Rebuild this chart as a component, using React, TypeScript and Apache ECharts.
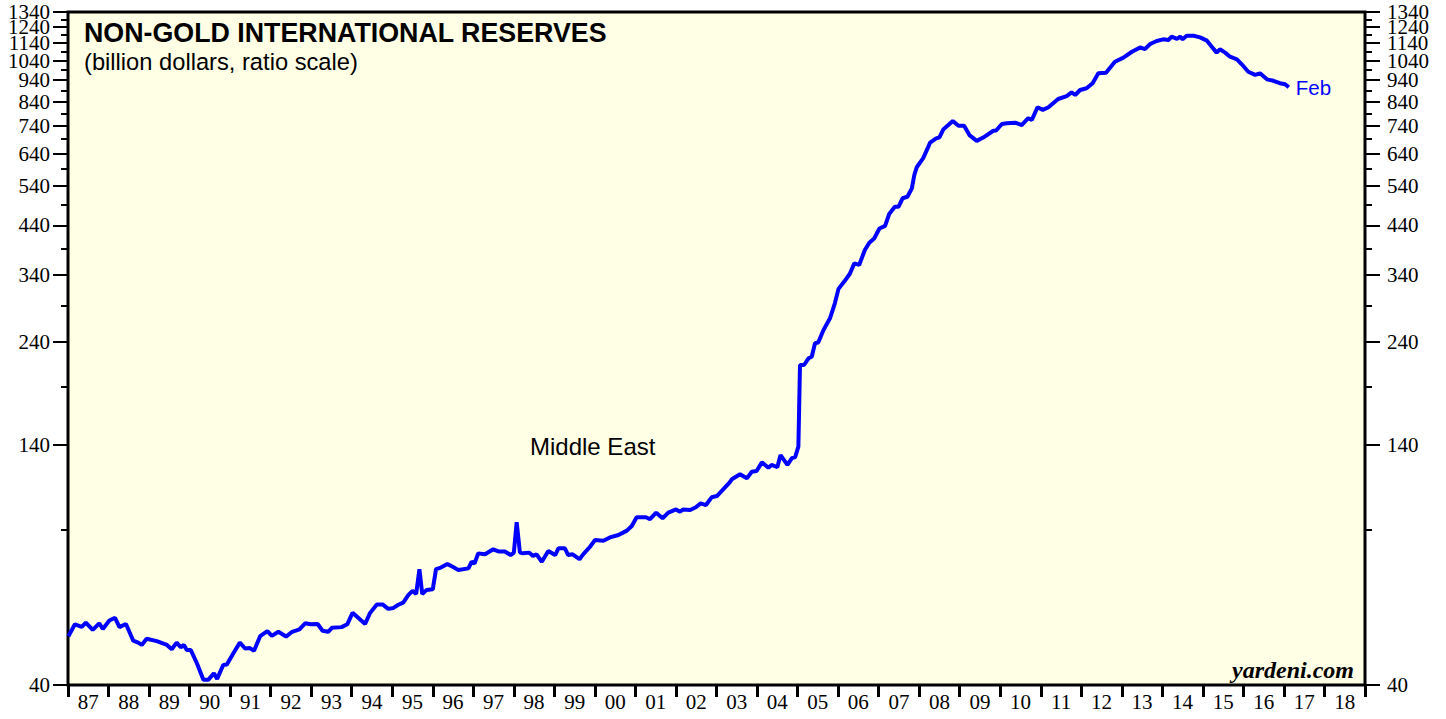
import React, { useEffect, useRef } from "react";
import * as echarts from "echarts";

const years: number[] = [
  1987.01, 1987.17, 1987.34, 1987.44, 1987.61, 1987.77, 1987.86, 1988.02, 1988.16, 1988.27,
  1988.43, 1988.61, 1988.73, 1988.82, 1988.94, 1989.19, 1989.44, 1989.56, 1989.68, 1989.78,
  1989.86, 1989.93, 1990.03, 1990.18, 1990.34, 1990.46, 1990.6, 1990.68, 1990.83, 1990.92,
  1991.08, 1991.24, 1991.37, 1991.49, 1991.59, 1991.74, 1991.92, 1992.03, 1992.19, 1992.38,
  1992.53, 1992.71, 1992.85, 1992.99, 1993.16, 1993.28, 1993.42, 1993.51, 1993.75, 1993.89,
  1994.02, 1994.16, 1994.33, 1994.45, 1994.62, 1994.76, 1994.9, 1995.03, 1995.15, 1995.27,
  1995.4, 1995.5, 1995.59, 1995.67, 1995.74, 1995.85, 1996.0, 1996.08, 1996.2, 1996.36,
  1996.49, 1996.63, 1996.88, 1996.96, 1997.03, 1997.12, 1997.29, 1997.49, 1997.62, 1997.78,
  1997.92, 1998.0, 1998.07, 1998.15, 1998.23, 1998.38, 1998.47, 1998.56, 1998.69, 1998.85,
  1999.02, 1999.1, 1999.26, 1999.34, 1999.45, 1999.62, 1999.71, 1999.88, 2000.0, 2000.21,
  2000.37, 2000.58, 2000.79, 2000.91, 2001.03, 2001.26, 2001.36, 2001.51, 2001.67, 2001.81,
  2002.0, 2002.1, 2002.18, 2002.35, 2002.49, 2002.61, 2002.74, 2002.88, 2003.01, 2003.13,
  2003.32, 2003.38, 2003.58, 2003.75, 2003.87, 2003.99, 2004.12, 2004.28, 2004.36, 2004.5,
  2004.58, 2004.75, 2004.86, 2004.94, 2005.02, 2005.06, 2005.16, 2005.27, 2005.35, 2005.43,
  2005.51, 2005.64, 2005.8, 2005.92, 2006.01, 2006.17, 2006.29, 2006.4, 2006.52, 2006.66,
  2006.77, 2006.89, 2007.02, 2007.16, 2007.26, 2007.4, 2007.49, 2007.59, 2007.71, 2007.82,
  2007.88, 2007.94, 2008.1, 2008.2, 2008.27, 2008.42, 2008.5, 2008.6, 2008.72, 2008.83,
  2008.97, 2009.11, 2009.24, 2009.42, 2009.58, 2009.83, 2009.9, 2010.04, 2010.16, 2010.37,
  2010.53, 2010.69, 2010.78, 2010.92, 2011.05, 2011.19, 2011.43, 2011.64, 2011.76, 2011.85,
  2011.97, 2012.13, 2012.28, 2012.42, 2012.61, 2012.83, 2013.04, 2013.25, 2013.45, 2013.57,
  2013.7, 2013.86, 2014.02, 2014.15, 2014.23, 2014.36, 2014.44, 2014.5, 2014.6, 2014.77,
  2014.93, 2015.1, 2015.22, 2015.34, 2015.42, 2015.55, 2015.67, 2015.84, 2015.96, 2016.12,
  2016.29, 2016.41, 2016.58, 2016.74, 2016.9, 2017.03, 2017.12,
];

const reserves: number[] = [
  51.6, 54.9, 54.2, 55.4, 53.3, 55.2, 53.6, 56.0, 56.8, 54.1,
  55.0, 50.4, 49.9, 49.3, 50.9, 50.3, 49.3, 48.2, 49.9, 48.7,
  49.3, 48.0, 48.0, 44.8, 41.1, 41.1, 42.5, 41.3, 44.4, 44.5,
  47.2, 49.9, 48.4, 48.5, 47.8, 51.6, 53.0, 51.7, 52.8, 51.5,
  52.8, 53.5, 55.2, 54.9, 55.0, 53.1, 52.8, 53.9, 54.1, 54.9,
  58.3, 56.8, 55.0, 58.2, 60.9, 60.9, 59.5, 59.8, 60.8, 61.5,
  64.0, 65.4, 64.3, 73.2, 64.3, 65.7, 65.9, 73.2, 73.8, 75.2,
  74.1, 72.9, 73.5, 76.1, 75.4, 79.5, 79.1, 81.2, 80.3, 80.3,
  78.8, 79.8, 93.5, 79.8, 79.5, 79.8, 78.4, 79.1, 76.1, 80.5,
  78.8, 81.6, 81.6, 78.8, 79.1, 77.1, 79.1, 82.3, 85.2, 84.9,
  86.4, 87.5, 89.5, 91.7, 96.0, 96.0, 95.0, 98.3, 95.5, 98.3,
  100.0, 98.8, 100.0, 99.7, 101.1, 103.2, 102.3, 106.5, 107.2, 110.1,
  115.0, 117.0, 120.1, 117.6, 121.7, 122.2, 127.8, 124.3, 126.1, 124.6,
  132.8, 126.1, 130.6, 131.4, 138.7, 212.4, 212.4, 220, 221.8, 237.9,
  238.8, 255, 271, 293, 316, 330, 342, 361, 358, 387,
  402, 411, 433, 439, 467, 485, 485, 507, 511, 534,
  572, 596, 625, 655, 678, 693, 697, 727, 743, 759,
  740, 740, 705, 684, 696, 721, 722, 747, 750, 752,
  743, 770, 763, 815, 804, 815, 851, 864, 881, 869,
  892, 900, 924, 973, 976, 1034, 1056, 1089, 1114, 1104,
  1134, 1152, 1162, 1158, 1178, 1165, 1178, 1162, 1184, 1184,
  1174, 1154, 1118, 1084, 1103, 1084, 1061, 1047, 1020, 981,
  965, 973, 943, 936, 924, 919, 905,
];

const yearLabels: string[] = [
  "87", "88", "89", "90", "91", "92", "93", "94", "95", "96", "97", "98", "99", "00", "01", "02",
  "03", "04", "05", "06", "07", "08", "09", "10", "11", "12", "13", "14", "15", "16", "17", "18",
];

const majorTicks: number[] = [40, 140, 240, 340, 440, 540, 640, 740, 840, 940, 1040, 1140, 1240, 1340];
const minorTicks: number[] = [90, 190, 290, 390, 490, 590, 690, 790, 890, 990, 1090, 1190, 1290];

const Y_MIN = 40;
const Y_MAX = 1340;
const X_MIN = 1987;
const X_MAX = 2019;

export default function App() {
  const ref = useRef<HTMLDivElement>(null);

  useEffect(() => {
    document.body.style.margin = "0";
    if (!ref.current) return;
    const chart = echarts.init(ref.current, undefined, { renderer: "svg" });

    const lnMin = Math.log(Y_MIN);
    const lnMax = Math.log(Y_MAX);
    const majorLn = majorTicks.map((v) => Math.log(v));
    const minorLn = minorTicks.map((v) => Math.log(v));
    // labels are split across two axes so that ECharts' min/max overlap
    // handling does not hide any of the densely packed top labels
    const labelsA = majorLn.filter((_, i) => i !== majorTicks.length - 2);
    const labelsB = [majorLn[majorTicks.length - 2]];
    const serif = "'Liberation Serif', 'Times New Roman', serif";
    const sans = "'Liberation Sans', Arial, Helvetica, sans-serif";

    const lnAxis = (
      pos: "left" | "right",
      ticks: number[] | null,
      tickLen: number,
      labels: number[] | null,
      margin: number
    ) => ({
      type: "value",
      position: pos,
      min: lnMin,
      max: lnMax,
      axisLine: { show: false },
      splitLine: { show: false },
      axisTick: ticks
        ? {
            show: true,
            customValues: ticks,
            length: tickLen,
            lineStyle: { color: "#000", width: 2 },
          }
        : { show: false },
      axisLabel: labels
        ? {
            show: true,
            customValues: labels,
            showMinLabel: true,
            showMaxLabel: true,
            hideOverlap: false,
            formatter: (v: number) => String(Math.round(Math.exp(v))),
            fontFamily: serif,
            fontSize: 21,
            color: "#000",
            margin,
          }
        : { show: false },
    });

    const option: any = {
      animation: false,
      backgroundColor: "#ffffff",
      grid: {
        left: 68,
        right: 81,
        top: 12,
        bottom: 34,
        show: true,
        backgroundColor: "#FFFFE6",
        borderColor: "#000",
        borderWidth: 3,
        containLabel: false,
        outerBoundsMode: "none",
      },
      xAxis: [
        { type: "value", min: X_MIN, max: X_MAX, show: false },
        {
          type: "category",
          data: yearLabels,
          position: "bottom",
          boundaryGap: true,
          axisLine: { show: false },
          splitLine: { show: false },
          axisTick: {
            show: true,
            alignWithLabel: false,
            interval: 0,
            length: 12,
            lineStyle: { color: "#000", width: 3 },
          },
          axisLabel: {
            interval: 0,
            fontFamily: serif,
            fontSize: 21,
            color: "#000",
            margin: 6,
          },
        },
      ],
      yAxis: [
        { type: "log", logBase: 10, min: Y_MIN, max: Y_MAX, show: false },
        lnAxis("left", majorLn, 15, labelsA, 18),
        lnAxis("left", minorLn, 7, null, 18),
        lnAxis("left", null, 0, labelsB, 18),
        lnAxis("right", majorLn, 15, labelsA, 22),
        lnAxis("right", minorLn, 7, null, 22),
        lnAxis("right", null, 0, labelsB, 22),
      ],
      graphic: [
        {
          type: "text",
          x: 84,
          y: 33,
          style: {
            text: "NON-GOLD INTERNATIONAL RESERVES",
            fontFamily: sans,
            fontWeight: "bold",
            fontSize: 26.8,
            fill: "#000",
            align: "left",
            verticalAlign: "middle",
          },
        },
        {
          type: "text",
          x: 84,
          y: 62,
          style: {
            text: "(billion dollars, ratio scale)",
            fontFamily: sans,
            fontSize: 23.7,
            fill: "#000",
            align: "left",
            verticalAlign: "middle",
          },
        },
        {
          type: "text",
          x: 530,
          y: 446,
          style: {
            text: "Middle East",
            fontFamily: sans,
            fontSize: 24,
            fill: "#000",
            align: "left",
            verticalAlign: "middle",
          },
        },
        {
          type: "text",
          x: 1354,
          y: 670,
          style: {
            text: "yardeni.com",
            fontFamily: serif,
            fontStyle: "italic",
            fontWeight: "bold",
            fontSize: 24,
            fill: "#000",
            align: "right",
            verticalAlign: "middle",
          },
        },
      ],
      series: [
        {
          type: "line",
          xAxisIndex: 0,
          yAxisIndex: 0,
          data: years.map((y, i) => [y, reserves[i]]),
          showSymbol: false,
          lineStyle: { color: "#0000FF", width: 4 },
          itemStyle: { color: "#0000FF" },
          endLabel: {
            show: true,
            formatter: "Feb",
            color: "#0000FF",
            fontFamily: sans,
            fontSize: 20.5,
            distance: 7,
          },
          z: 5,
        },
      ],
    };

    chart.setOption(option);
    return () => chart.dispose();
  }, []);

  return (
    <div
      ref={ref}
      style={{ position: "fixed", left: 0, top: 0, width: 1446, height: 719 }}
    />
  );
}
